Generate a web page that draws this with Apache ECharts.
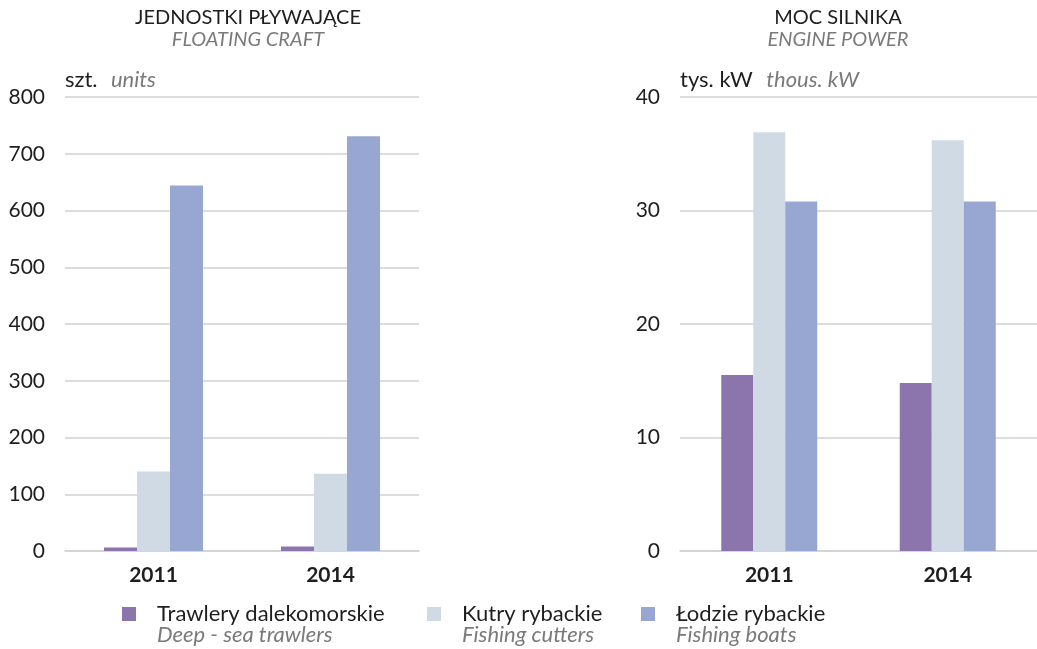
<!DOCTYPE html>
<html>
<head>
<meta charset="utf-8">
<script src="https://cdn.jsdelivr.net/npm/echarts@6/dist/echarts.min.js"></script>
<style>
  html, body { margin: 0; padding: 0; background: #fff; }
  #chart { width: 1037px; height: 649px; }
</style>
</head>
<body>
<div id="chart"></div>
<script>
const years = ['2011', '2014']
const seriesNames = ['Trawlery dalekomorskie', 'Kutry rybackie', 'Łodzie rybackie']
const seriesNamesEn = ['Deep - sea trawlers', 'Fishing cutters', 'Fishing boats']
const colors = ['#8c74ac', '#cfdae5', '#98a7d2']

// jednostki pływające (szt.)
const craftTrawlers = [6, 8]
const craftCutters = [140, 136]
const craftBoats = [644, 731]

// moc silnika (tys. kW)
const powerTrawlers = [15.5, 14.8]
const powerCutters = [36.9, 36.2]
const powerBoats = [30.8, 30.8]

const font = 'Lato'
const dark = '#1e1e1e'
const grey = '#7a7a7a'
const gridColor = '#d2d2d2'

function yAxis(gridIndex, max, interval, unit, unitEn) {
  return {
    type: 'value', gridIndex: gridIndex, min: 0, max: max, interval: interval,
    name: '{a|' + unit + '}    {b|' + unitEn + '}',
    nameLocation: 'end',
    nameGap: 6,
    nameTextStyle: {
      align: 'left', verticalAlign: 'bottom',
      rich: {
        a: { fontFamily: font, fontSize: 22, color: dark },
        b: { fontFamily: font, fontSize: 22, color: grey, fontStyle: 'italic' }
      }
    },
    axisLabel: { fontFamily: font, fontSize: 21, color: dark, margin: 20 },
    splitLine: { lineStyle: { color: gridColor, width: 1.5 } },
    axisLine: { show: false },
    axisTick: { show: false }
  }
}

function xAxis(gridIndex) {
  return {
    type: 'category', gridIndex: gridIndex, data: years,
    axisLabel: { fontFamily: font, fontSize: 21, fontWeight: 'bold', color: dark, margin: 14 },
    axisLine: { lineStyle: { color: gridColor, width: 1.5 } },
    axisTick: { show: false }
  }
}

function bars(gridIndex, values, width) {
  return values.map((data, i) => ({
    name: seriesNames[i],
    type: 'bar',
    xAxisIndex: gridIndex,
    yAxisIndex: gridIndex,
    data: data,
    barWidth: width,
    barGap: '0%',
    itemStyle: { color: colors[i] },
    emphasis: { disabled: true }
  }))
}

const legendLeft = [122, 427, 641]

const option = {
  animation: false,
  grid: [
    { left: 65, width: 354, top: 97, bottom: 98 },
    { left: 680, width: 362, top: 97, bottom: 98 }
  ],
  xAxis: [xAxis(0), xAxis(1)],
  yAxis: [
    yAxis(0, 800, 100, 'szt.', 'units'),
    yAxis(1, 40, 10, 'tys. kW', 'thous. kW')
  ],
  legend: seriesNames.map((name, i) => ({
    data: [name],
    left: legendLeft[i],
    top: 603,
    padding: 0,
    itemWidth: 14,
    itemHeight: 14,
    icon: 'rect',
    selectedMode: false,
    textStyle: { fontFamily: font, fontSize: 22, color: dark, padding: [0, 0, 0, 16] }
  })),
  graphic: [
    { type: 'text', x: 248, y: 8, style: { text: 'JEDNOSTKI PŁYWAJĄCE', font: '20px ' + font, fill: dark, textAlign: 'center' } },
    { type: 'text', x: 248, y: 30, style: { text: 'FLOATING CRAFT', font: 'italic 20px ' + font, fill: grey, textAlign: 'center' } },
    { type: 'text', x: 838, y: 8, style: { text: 'MOC SILNIKA', font: '20px ' + font, fill: dark, textAlign: 'center' } },
    { type: 'text', x: 838, y: 30, style: { text: 'ENGINE POWER', font: 'italic 20px ' + font, fill: grey, textAlign: 'center' } }
  ].concat(seriesNamesEn.map((t, i) => ({
    type: 'text', x: legendLeft[i] + 35, y: 624,
    style: { text: t, font: 'italic 22px ' + font, fill: grey }
  }))),
  series: bars(0, [craftTrawlers, craftCutters, craftBoats], 33)
    .concat(bars(1, [powerTrawlers, powerCutters, powerBoats], 32))
}

const chart = echarts.init(document.getElementById('chart'))
chart.setOption(option)
</script>
</body>
</html>
